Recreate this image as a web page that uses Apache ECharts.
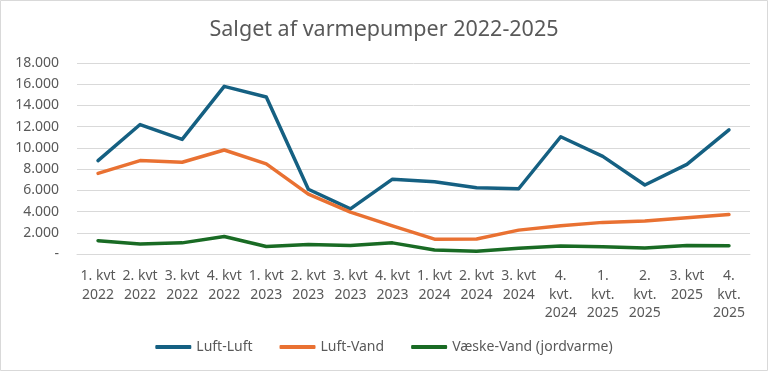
<!DOCTYPE html>
<html>
<head>
<meta charset="utf-8">
<script src="https://cdn.jsdelivr.net/npm/echarts@6/dist/echarts.min.js"></script>
<style>
html,body{margin:0;padding:0;background:#fff;}
#c{width:768px;height:371px;}
</style>
</head>
<body>
<div id="c"></div>
<script>
var categories = [
  "1. kvt\n2022","2. kvt\n2022","3. kvt\n2022","4. kvt\n2022",
  "1. kvt\n2023","2. kvt\n2023","3. kvt\n2023","4. kvt\n2023",
  "1. kvt\n2024","2. kvt\n2024","3. kvt\n2024","4.\nkvt.\n2024",
  "1.\nkvt.\n2025","2.\nkvt.\n2025","3. kvt\n2025","4.\nkvt.\n2025"
];
var luftLuft = [8800,12200,10800,15800,14800,6100,4250,7050,6800,6250,6150,11050,9200,6500,8450,11700];
var luftVand = [7600,8800,8650,9800,8500,5650,3950,2650,1400,1420,2250,2670,2980,3100,3420,3720];
var vaeskeVand = [1250,950,1050,1650,700,900,800,1050,380,260,540,750,690,560,800,780];
var seriesNames = ["Luft-Luft","Luft-Vand","Væske-Vand (jordvarme)"];
var colors = ["#156082","#E97132","#196B24"];
var FONT = "Noto Sans";

var chart = echarts.init(document.getElementById('c'), null, {renderer:'canvas'});
function fmt(v){
  if (v === 0) return '-';
  return String(v).replace(/\B(?=(\d{3})+(?!\d))/g, '.');
}
var dataSets = [luftLuft, luftVand, vaeskeVand];
chart.setOption({
  animation:false,
  backgroundColor:'#ffffff',
  color: colors,
  title:{
    text:'Salget af varmepumper 2022-2025',
    left:'center', top:14,
    textStyle:{fontFamily:FONT, fontSize:21.5, fontWeight:'normal', color:'#595959'}
  },
  graphic:[{type:'rect', shape:{x:0.5,y:0.5,width:767,height:370}, style:{fill:'none', stroke:'#d9d9d9', lineWidth:1}, z:-10}],
  legend:{
    data: seriesNames,
    bottom: 12,
    left:'center',
    itemWidth:36, itemHeight:4, itemGap:27,
    icon:'roundRect',
    textStyle:{fontFamily:FONT, fontSize:14, color:'#595959'}
  },
  grid:{left:77, right:18, top:63, bottom:117, containLabel:false},
  xAxis:{
    type:'category',
    data: categories,
    boundaryGap:true,
    axisLine:{show:true, lineStyle:{color:'#d9d9d9', width:1}},
    axisTick:{show:false},
    axisLabel:{interval:0, margin:13, fontFamily:FONT, fontSize:14, lineHeight:18.5, color:'#595959', align:'center'}
  },
  yAxis:{
    type:'value', min:0, max:18000, interval:2000,
    axisLine:{show:false}, axisTick:{show:false},
    splitLine:{lineStyle:{color:'#d9d9d9', width:1}},
    axisLabel:{formatter: fmt, margin:18, fontFamily:FONT, fontSize:14, color:'#595959'}
  },
  series: seriesNames.map(function(n,i){
    return {
      name:n, type:'line', data:dataSets[i], symbol:'none', smooth:false,
      lineStyle:{width:3.5, color:colors[i], cap:'round', join:'round'},
      itemStyle:{color:colors[i]}
    };
  })
});
</script>
</body>
</html>
